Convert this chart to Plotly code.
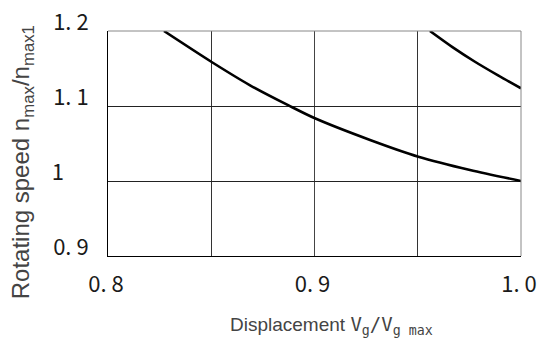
import plotly.graph_objects as go

# data
x_lower = [0.8271, 0.8500, 0.8688, 0.8877, 0.9002, 0.9269, 0.9503, 0.9753, 1.0000]
y_lower = [1.2000, 1.1590, 1.1276, 1.1004, 1.0836, 1.0547, 1.0324, 1.0147, 1.0000]
x_upper = [0.9559, 0.9668, 0.9777, 0.9889, 1.0000]
y_upper = [1.2000, 1.1785, 1.1590, 1.1408, 1.1236]

x_tickvals = [0.8, 0.9, 1.0]
x_ticktext = ["0. 8", "0. 9", "1. 0"]
y_tickvals = [0.9, 1.0, 1.1, 1.2]
y_ticktext = ["0. 9", "1\u00a0\u00a0\u00a0\u00a0\u00a0", "1. 1", "1. 2"]

fig = go.Figure()
for xs, ys in ((x_lower, y_lower), (x_upper, y_upper)):
    fig.add_trace(go.Scatter(x=xs, y=ys, mode="lines",
                             line=dict(color="black", width=2.6, shape="spline", smoothing=0.8),
                             hoverinfo="skip", showlegend=False))

tick_font = dict(family="Noto Sans CJK JP", size=22, color="#1a1a1a")

fig.update_xaxes(range=[0.8, 1.0], tickvals=x_tickvals, ticktext=x_ticktext,
                 showgrid=True, gridcolor="#444", gridwidth=1, zeroline=False,
                 minor=dict(dtick=0.05, tick0=0.8, showgrid=True, gridcolor="#333", gridwidth=1, ticks=""),
                 showline=True, linecolor="black", linewidth=1, ticks="",
                 tickfont=tick_font, ticklabelstandoff=9, ticklabelshift=-2,
                 ticklabeloverflow="allow", automargin=False)
fig.update_yaxes(range=[0.9, 1.2], tickvals=y_tickvals, ticktext=y_ticktext,
                 showgrid=True, gridcolor="#222", gridwidth=1, zeroline=False,
                 showline=True, linecolor="black", linewidth=1, ticks="",
                 tickfont=tick_font, ticklabelstandoff=14, ticklabelshift=-9,
                 ticklabeloverflow="allow", automargin=False)

# top / right borders (lighter)
fig.add_shape(type="line", xref="paper", yref="paper", x0=0, x1=1, y0=1, y1=1,
              line=dict(color="#888", width=1))
fig.add_shape(type="line", xref="paper", yref="paper", x0=1, x1=1, y0=0, y1=1,
              line=dict(color="#888", width=1))

fig.add_annotation(
    xref="paper", yref="paper", x=-0.205, y=0.418, xanchor="center", yanchor="middle",
    textangle=-90, showarrow=False,
    text="Rotating speed n<sub>max</sub>/n<sub>max1</sub>",
    font=dict(family="Liberation Sans", size=24, color="#444"))
fig.add_annotation(
    xref="paper", yref="paper", x=0.54, y=-0.31, xanchor="center", yanchor="middle",
    showarrow=False,
    text="Displacement <span style='font-family:DejaVu Sans Mono'>V<sub>g</sub>/V<sub>g max</sub></span>",
    font=dict(family="Liberation Sans", size=19, color="#444"))

fig.update_layout(width=538, height=342, margin=dict(l=108, r=17, t=31, b=86),
                  paper_bgcolor="white", plot_bgcolor="white")

fig.write_html("out.html")
